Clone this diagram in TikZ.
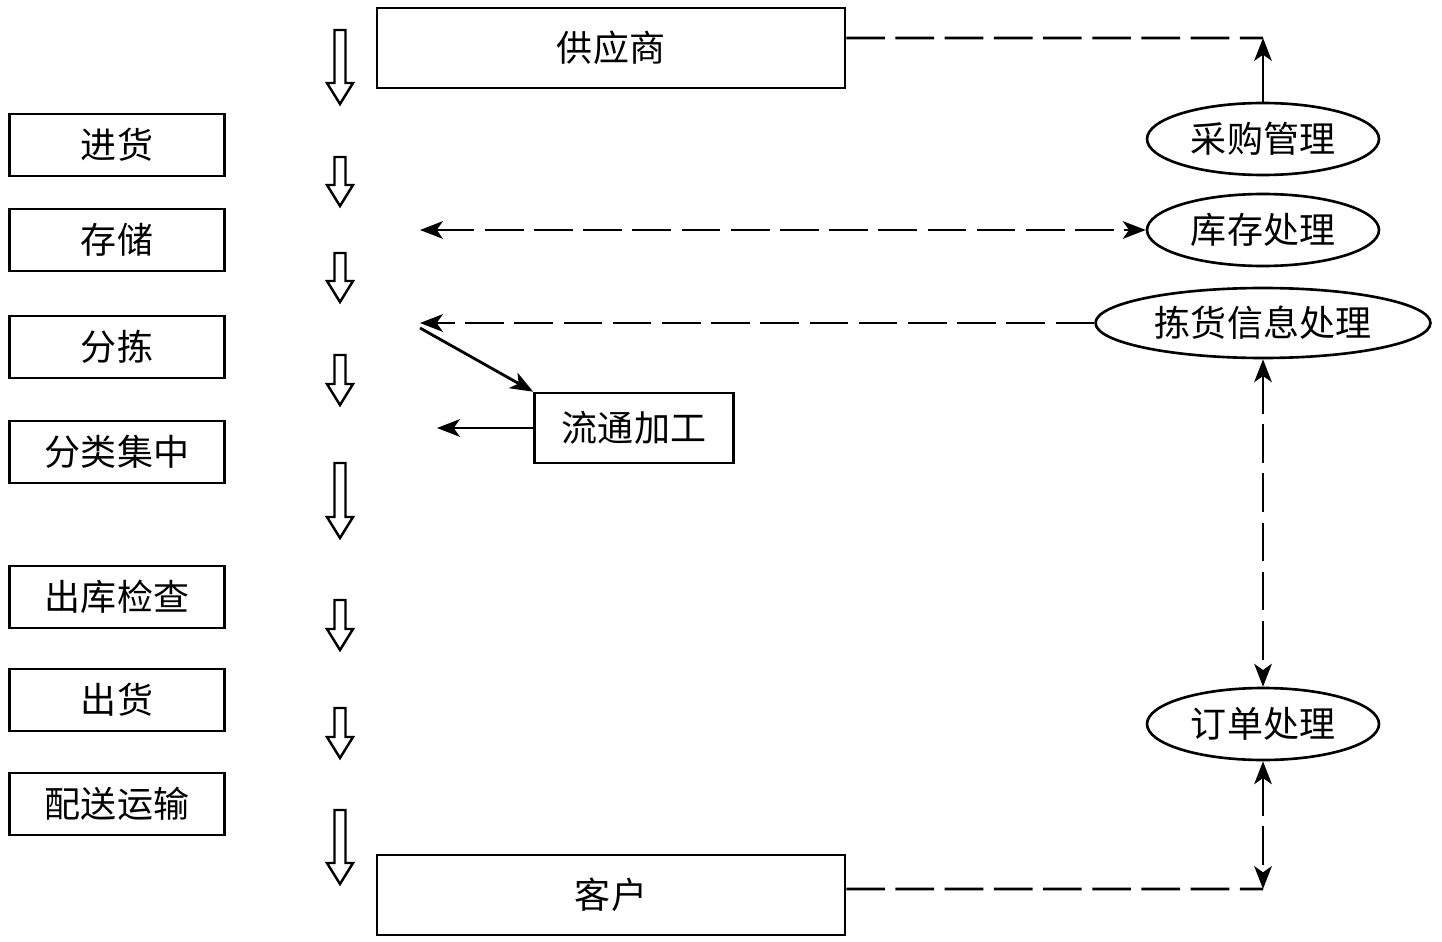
\documentclass[tikz,border=0pt]{standalone}
\usepackage{fontspec}
\setmainfont{Noto Sans CJK SC}
\usetikzlibrary{arrows.meta,shapes.geometric}

\tikzset{
  cjk/.style={font=\fontsize{20.5pt}{24pt}\selectfont},
  box/.style={draw, cjk, line width=1.5pt, minimum width=4.3cm, minimum height=1.24cm, inner sep=0pt},
  bigbox/.style={box, minimum width=9.36cm, minimum height=1.6cm},
  workbox/.style={box, minimum width=3.98cm, minimum height=1.4cm},
  oval/.style={draw, ellipse, cjk, line width=1.5pt, minimum width=4.64cm, minimum height=1.44cm, inner sep=0pt},
  link/.style={line width=1.6pt},
  dlink/.style={link, dash pattern=on 22pt off 6pt},
  hollow/.style={line width=1.4pt, fill=white, line join=miter},
}

\begin{document}
\begin{tikzpicture}[x=0.02cm, y=-0.02cm,
    >={Stealth[length=13pt,width=10pt,inset=3.5pt]}]
    \useasboundingbox (0,0) rectangle (1442,942);

    % Supplier and customer
    \node[bigbox] (sup) at (611,48) {供应商};
    \node[bigbox] (cust) at (611,895) {客户};

    % Steps on the left
    \node[box] (s1) at (117,145) {进货};
    \node[box] (s2) at (117,240) {存储};
    \node[box] (s3) at (117,347) {分拣};
    \node[box] (s4) at (117,452) {分类集中};
    \node[box] (s5) at (117,597) {出库检查};
    \node[box] (s6) at (117,700) {出货};
    \node[box] (s7) at (117,804) {配送运输};

    % Hollow flow arrows
    \foreach \ya/\yb in {30/104, 157/206, 253/302, 355/405, 463/538, 600/650, 708/758, 810/884}
      \draw[hollow] (334.5,\ya) -- (345.5,\ya) -- (345.5,{\yb-21}) -- (353,{\yb-21})
        -- (340,\yb) -- (327,{\yb-21}) -- (334.5,{\yb-21}) -- cycle;

    % Processing
    \node[workbox] (work) at (634,428) {流通加工};

    % Information side
    \node[oval] (buy) at (1263,139) {采购管理};
    \node[oval] (inv) at (1263,230) {库存处理};
    \node[oval, minimum width=6.7cm, minimum height=1.4cm] (pick) at (1263,323) {拣货信息处理};
    \node[oval] (order) at (1263,724) {订单处理};

    \coordinate (topC) at (1263,38);
    \coordinate (botC) at (1263,889);
    \coordinate (invL) at (420,230);
    \coordinate (pickL) at (420,323);
    \coordinate (pickD) at (420,328);
    \coordinate (workL) at (437,428);

    % Connectors
    \draw[dlink] ([yshift=0.2cm]sup.east) -- (topC);
    \draw[link, ->] (buy.north) -- (topC);
    \draw[dlink, <->] (invL) -- (inv.west);
    \draw[dlink, ->] (pick.west) -- (pickL);
    \draw[link, ->] (pickD) -- (work.north west);
    \draw[link, ->] (work.west) -- (workL);
    \draw[dlink, <->] (pick.south) -- (order.north);
    \draw[dlink, <->] (order.south) -- (botC);
    \draw[dlink] ([yshift=0.12cm]cust.east) -- (botC);
  \end{tikzpicture}
\end{document}
